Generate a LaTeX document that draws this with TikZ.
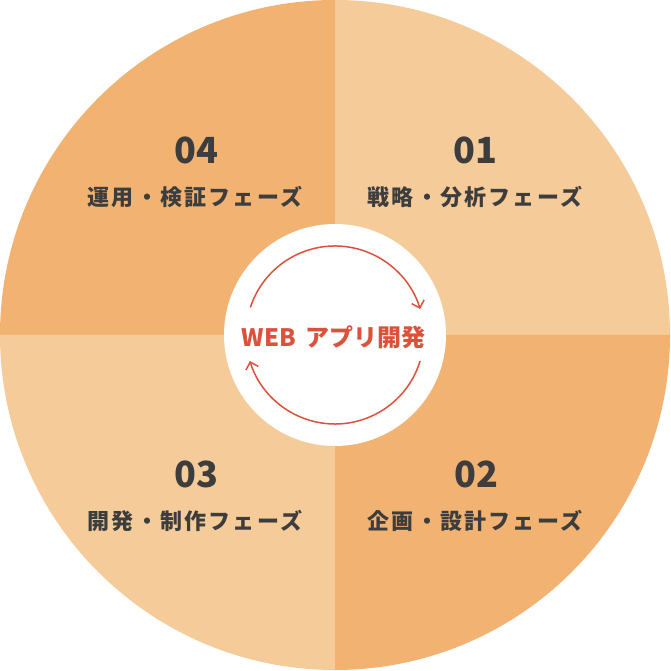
\documentclass[tikz,border=0pt]{standalone}
\usepackage{fontspec}
\usetikzlibrary{arrows.meta}
\newfontfamily\jp{Noto Sans CJK JP}
\newfontfamily\jplab{Noto Sans CJK JP}[LetterSpace=10]
\definecolor{qlight}{HTML}{F5CC99}
\definecolor{qdark}{HTML}{F2B372}
\definecolor{redc}{HTML}{DA523B}
\definecolor{txt}{HTML}{3D3D3D}
\tikzset{
  numlabel/.style={inner sep=0pt, text=txt, font=\jp\bfseries\fontsize{36}{40}\selectfont},
  phaselabel/.style={inner sep=0pt, text=txt, font=\jplab\bfseries\fontsize{22}{26}\selectfont},
  cycarrow/.style={draw=redc, line width=1.5pt, -{Straight Barb[length=6.5pt,width=13pt]}},
}
\begin{document}
\begin{tikzpicture}[x=1pt,y=1pt]
\useasboundingbox (0,0) rectangle (670,671);
\coordinate (C) at (335,336);
% quadrants
\fill[qlight] (C) -- ++(335,0) arc[start angle=0,end angle=90,radius=335] -- cycle;
\fill[qdark] (C) -- ++(0,335) arc[start angle=90,end angle=180,radius=335] -- cycle;
\fill[qlight] (C) -- ++(-335,0) arc[start angle=180,end angle=270,radius=335] -- cycle;
\fill[qdark] (C) -- ++(0,-335) arc[start angle=270,end angle=360,radius=335] -- cycle;
% inner circle
\fill[white] (C) circle[radius=111];
% cycle arrows
\draw[cycarrow] (C) ++(162:89) arc[start angle=162,end angle=17,radius=89];
\draw[cycarrow] (C) ++(-17:89) arc[start angle=-17,end angle=-163,radius=89];
% center text
\node[inner sep=0pt, text=redc, font=\jp\bfseries\fontsize{24}{28}\selectfont] (center) at (333.5,334) {WEB\kern9pt アプリ開発};
% phases
\node[numlabel] (n1) at (475,521) {01};
\node[phaselabel] (l1) at (475,474) {戦略・分析フェーズ};
\node[numlabel] (n2) at (476,196.5) {02};
\node[phaselabel] (l2) at (475,150) {企画・設計フェーズ};
\node[numlabel] (n3) at (196,196.5) {03};
\node[phaselabel] (l3) at (195,150) {開発・制作フェーズ};
\node[numlabel] (n4) at (196,521) {04};
\node[phaselabel] (l4) at (195,474) {運用・検証フェーズ};
\end{tikzpicture}
\end{document}
